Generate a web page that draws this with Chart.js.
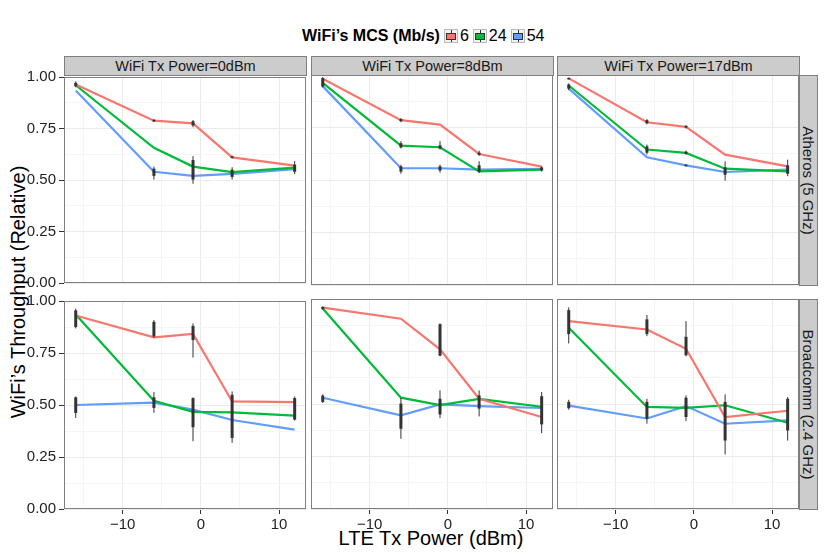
<!DOCTYPE html>
<html lang="en">
<head>
<meta charset="UTF-8">
<title>WiFi Throughput vs LTE Tx Power</title>
<script src="https://cdn.jsdelivr.net/npm/chart.js"></script>
<style>
  body { margin: 0; background: #fff; font-family: "Liberation Sans", Arial, sans-serif; }
  #wrap { position: relative; width: 830px; height: 554px; overflow: hidden; }
  #wrap canvas { position: absolute; }
  .strip {
    position: absolute; background: #cccccc; border: 1px solid #7f7f7f; box-sizing: border-box;
    display: flex; align-items: center; justify-content: center; font-size: 14.5px; color: #1a1a1a;
    white-space: nowrap;
  }
  .vstrip span { transform: rotate(90deg); font-size: 15px; }
  .title { position: absolute; font-size: 20px; color: #000; white-space: nowrap; }
  #legend { position: absolute; left: 302px; top: 27px; display: flex; align-items: center; font-size: 16px; }
  #legend b { margin-right: 3px; }
  .key { width: 12px; height: 12px; background: #f2f2f2; border: 1px solid #bbb; position: relative; margin: 0 2px 0 1px; }
  .key i { position: absolute; left: 1px; top: 3px; width: 8px; height: 5px; border: 1px solid #333; }
  .key u { position: absolute; left: 6px; top: 0; width: 1px; height: 12px; background: #333; }
  .lab { margin-right: 3px; }
</style>
</head>
<body>
<div id="wrap">
  <div id="legend"><b>WiFi’s MCS (Mb/s)</b></div>
  <div class="title" style="left:431px; top:538px; transform:translate(-50%,-50%);">LTE Tx Power (dBm)</div>
  <div class="title" style="left:18px; top:292px; transform:translate(-50%,-50%) rotate(-90deg);">WiFi’s Throughput (Relative)</div>
</div>
<script>
// LTE Tx power levels (x values)
const xs = [-16, -6, -1, 4, 12];
const colNames = ['WiFi Tx Power=0dBm', 'WiFi Tx Power=8dBm', 'WiFi Tx Power=17dBm'];
const rowNames = ['Atheros (5 GHz)', 'Broadcomm (2.4 GHz)'];
const mcsNames = ['6', '24', '54'];
const colors = ['#F8766D', '#00BA38', '#619CFF'];

// one inner array per WiFi Tx power (0, 8, 17 dBm)
const atheros6 = [[0.963, 0.788, 0.775, 0.61, 0.57], [0.982, 0.785, 0.764, 0.624, 0.564], [0.984, 0.775, 0.753, 0.621, 0.565]];
const atheros24 = [[0.96, 0.656, 0.565, 0.538, 0.56], [0.963, 0.664, 0.656, 0.541, 0.549], [0.95, 0.645, 0.629, 0.554, 0.541]];
const atheros54 = [[0.935, 0.54, 0.52, 0.53, 0.553], [0.947, 0.556, 0.556, 0.549, 0.553], [0.935, 0.608, 0.57, 0.538, 0.549]];
const broadcomm6 = [[0.93, 0.825, 0.842, 0.517, 0.514], [0.959, 0.906, 0.76, 0.525, 0.438], [0.895, 0.855, 0.763, 0.438, 0.468]];
const broadcomm24 = [[0.935, 0.52, 0.467, 0.465, 0.449], [0.955, 0.53, 0.495, 0.524, 0.487], [0.863, 0.486, 0.482, 0.494, 0.411]];
const broadcomm54 = [[0.50, 0.511, 0.478, 0.428, 0.382], [0.53, 0.446, 0.498, 0.49, 0.481], [0.492, 0.431, 0.49, 0.406, 0.422]];

// boxplots: [row, col, x, min, q1, q3, max]
const boxes = [
  [0, 0, -16, 0.95, 0.955, 0.972, 0.979], [0, 0, -6, 0.782, 0.785, 0.792, 0.795], [0, 0, -6, 0.502, 0.52, 0.555, 0.565],
  [0, 0, -1, 0.756, 0.765, 0.785, 0.791], [0, 0, -1, 0.482, 0.502, 0.597, 0.616], [0, 0, 4, 0.605, 0.607, 0.615, 0.618],
  [0, 0, 4, 0.502, 0.515, 0.55, 0.562], [0, 0, 12, 0.529, 0.54, 0.575, 0.592],
  [0, 1, -16, 0.94, 0.945, 0.985, 0.99], [0, 1, -6, 0.775, 0.78, 0.79, 0.795], [0, 1, -6, 0.65, 0.655, 0.675, 0.685],
  [0, 1, -6, 0.53, 0.54, 0.565, 0.573], [0, 1, -1, 0.645, 0.65, 0.665, 0.685], [0, 1, -1, 0.535, 0.545, 0.565, 0.573],
  [0, 1, 4, 0.615, 0.62, 0.63, 0.64], [0, 1, 4, 0.533, 0.54, 0.57, 0.589], [0, 1, 12, 0.54, 0.545, 0.56, 0.565],
  [0, 2, -16, 0.928, 0.935, 0.955, 0.96], [0, 2, -16, 0.98, 0.982, 0.986, 0.988], [0, 2, -6, 0.765, 0.77, 0.785, 0.79],
  [0, 2, -6, 0.621, 0.63, 0.66, 0.669], [0, 2, -1, 0.745, 0.75, 0.758, 0.76], [0, 2, -1, 0.62, 0.625, 0.635, 0.64],
  [0, 2, -1, 0.565, 0.567, 0.573, 0.575], [0, 2, 4, 0.497, 0.525, 0.56, 0.589], [0, 2, 12, 0.518, 0.53, 0.57, 0.597],
  [1, 0, -16, 0.868, 0.875, 0.955, 0.963], [1, 0, -16, 0.438, 0.462, 0.537, 0.541], [1, 0, -6, 0.823, 0.83, 0.9, 0.908],
  [1, 0, -6, 0.462, 0.486, 0.537, 0.562], [1, 0, -1, 0.728, 0.812, 0.88, 0.892], [1, 0, -1, 0.326, 0.393, 0.533, 0.537],
  [1, 0, 4, 0.318, 0.342, 0.549, 0.565], [1, 0, 12, 0.425, 0.43, 0.533, 0.541],
  [1, 1, -16, 0.95, 0.952, 0.962, 0.965], [1, 1, -16, 0.505, 0.51, 0.54, 0.546], [1, 1, -6, 0.334, 0.382, 0.502, 0.53],
  [1, 1, -1, 0.728, 0.73, 0.88, 0.884], [1, 1, -1, 0.433, 0.45, 0.525, 0.565], [1, 1, 4, 0.441, 0.478, 0.541, 0.565],
  [1, 1, 12, 0.361, 0.403, 0.537, 0.557],
  [1, 2, -16, 0.788, 0.833, 0.947, 0.96], [1, 2, -16, 0.473, 0.48, 0.51, 0.52], [1, 2, -6, 0.823, 0.833, 0.903, 0.924],
  [1, 2, -6, 0.406, 0.43, 0.51, 0.525], [1, 2, -1, 0.728, 0.732, 0.82, 0.895], [1, 2, -1, 0.419, 0.438, 0.53, 0.541],
  [1, 2, 4, 0.26, 0.326, 0.51, 0.546], [1, 2, 12, 0.326, 0.374, 0.525, 0.533]
];

const series = [[atheros6, atheros24, atheros54], [broadcomm6, broadcomm24, broadcomm54]];

const colLeft = [64, 311, 557];
const rowTop = [75, 299];
const panelW = 242, panelH = 210, pad = 10, yAxisW = 40, xAxisH = 30;

Chart.defaults.font.family = "'Liberation Sans', Arial, sans-serif";
const wrap = document.getElementById('wrap');

// legend
const legend = document.getElementById('legend');
mcsNames.forEach((name, i) => {
  const key = document.createElement('span');
  key.className = 'key';
  key.innerHTML = '<u></u><i style="background:' + colors[i] + '"></i>';
  legend.appendChild(key);
  const lab = document.createElement('span');
  lab.className = 'lab';
  lab.textContent = name;
  legend.appendChild(lab);
});

// strips
colNames.forEach((name, c) => {
  const s = document.createElement('div');
  s.className = 'strip';
  s.style.cssText = `left:${colLeft[c]}px;top:56px;width:${panelW + 1}px;height:20px;`;
  s.textContent = name;
  wrap.appendChild(s);
});
rowNames.forEach((name, r) => {
  const s = document.createElement('div');
  s.className = 'strip vstrip';
  s.style.cssText = `left:${colLeft[2] + panelW}px;top:${rowTop[r]}px;width:19px;height:${panelH + 1}px;`;
  s.innerHTML = '<span>' + name + '</span>';
  wrap.appendChild(s);
});

const panelPlugin = {
  id: 'panel',
  afterDatasetsDraw(chart, args, opts) {
    const ctx = chart.ctx, xS = chart.scales.x, yS = chart.scales.y;
    ctx.save();
    boxes.filter(b => b[0] === opts.row && b[1] === opts.col).forEach(b => {
      const px = xS.getPixelForValue(b[2]);
      ctx.strokeStyle = '#333';
      ctx.lineWidth = 1;
      ctx.beginPath();
      ctx.moveTo(px, yS.getPixelForValue(b[3]));
      ctx.lineTo(px, yS.getPixelForValue(b[6]));
      ctx.stroke();
      const top = yS.getPixelForValue(b[5]), bot = yS.getPixelForValue(b[4]);
      ctx.fillStyle = '#333';
      ctx.fillRect(px - 1.5, top, 3, Math.max(bot - top, 1.5));
    });
    const a = chart.chartArea;
    ctx.strokeStyle = '#7f7f7f';
    ctx.lineWidth = 1;
    ctx.strokeRect(a.left + 0.5, a.top + 0.5, a.width - 1, a.height - 1);
    ctx.restore();
  }
};

const minus = v => (v < 0 ? '\u2212' + Math.abs(v) : String(v));

for (let r = 0; r < 2; r++) {
  for (let c = 0; c < 3; c++) {
    const yw = c === 0 ? yAxisW : 0;
    const xh = r === 1 ? xAxisH : 0;
    const canvas = document.createElement('canvas');
    canvas.width = panelW + 2 * pad + yw;
    canvas.height = panelH + 2 * pad + xh;
    canvas.style.left = (colLeft[c] - pad - yw) + 'px';
    canvas.style.top = (rowTop[r] - pad) + 'px';
    wrap.appendChild(canvas);

    new Chart(canvas, {
      type: 'line',
      data: {
        datasets: series[r].map((s, i) => ({
          label: mcsNames[i],
          data: xs.map((x, k) => ({ x: x, y: s[c][k] })),
          borderColor: colors[i],
          borderWidth: 2.2,
          pointRadius: 0,
          tension: 0
        }))
      },
      options: {
        responsive: false,
        animation: false,
        layout: { padding: pad },
        plugins: {
          legend: { display: false },
          tooltip: { enabled: false },
          panel: { row: r, col: c }
        },
        scales: {
          x: {
            type: 'linear',
            min: -17.5,
            max: 13.45,
            border: { display: false },
            ticks: {
              display: r === 1,
              stepSize: 5,
              includeBounds: false,
              maxRotation: 0,
              autoSkip: false,
              padding: 2,
              color: '#222',
              font: { size: 15 },
              callback: v => (v % 10 === 0 ? minus(v) : '')
            },
            grid: {
              drawTicks: r === 1,
              tickLength: 5,
              color: ctx => (ctx.tick && ctx.tick.value % 10 === 0 ? '#ebebeb' : '#f5f5f5'),
              tickColor: ctx => (ctx.tick && ctx.tick.value % 10 === 0 ? '#333' : 'rgba(0,0,0,0)')
            },
            afterFit: s => { s.height = xh; }
          },
          y: {
            min: 0,
            max: 1,
            border: { display: false },
            ticks: {
              display: c === 0,
              stepSize: 0.125,
              includeBounds: false,
              autoSkip: false,
              padding: 3,
              color: '#222',
              font: { size: 15 },
              callback: v => (v % 0.25 === 0 ? v.toFixed(2) : '')
            },
            grid: {
              drawTicks: c === 0,
              tickLength: 5,
              color: ctx => (ctx.tick && ctx.tick.value % 0.25 === 0 ? '#ebebeb' : '#f5f5f5'),
              tickColor: ctx => (ctx.tick && ctx.tick.value % 0.25 === 0 ? '#333' : 'rgba(0,0,0,0)')
            },
            afterFit: s => { s.width = yw; }
          }
        }
      },
      plugins: [panelPlugin]
    });
  }
}
</script>
</body>
</html>
